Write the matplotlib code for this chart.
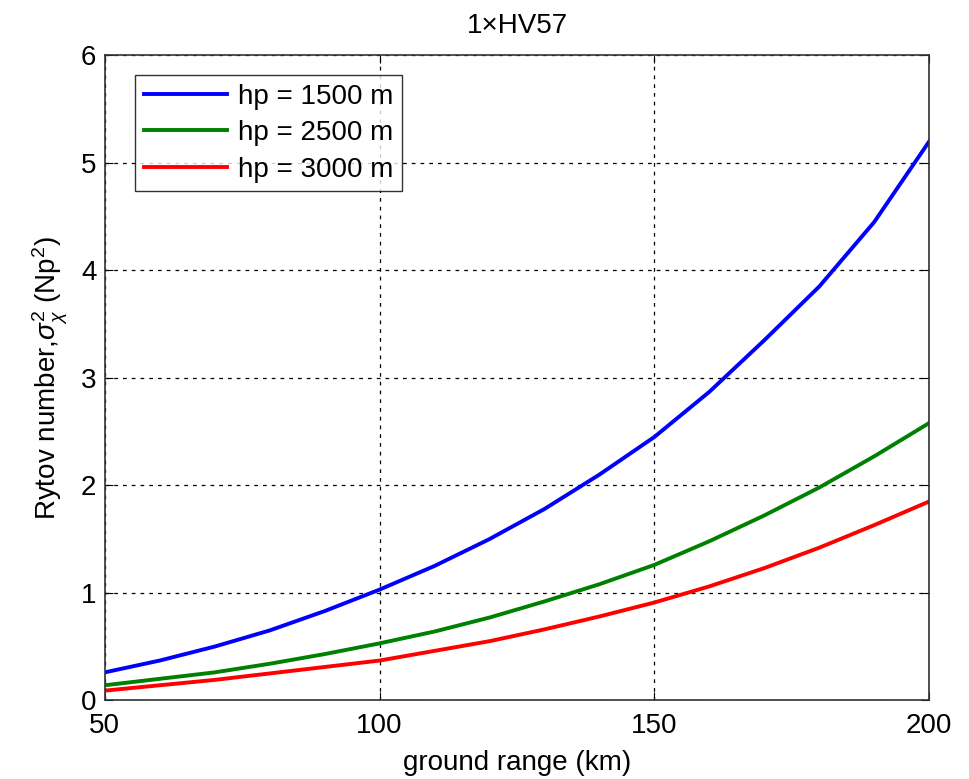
import matplotlib.pyplot as plt
import numpy as np

# Datos
rango = [50, 60, 70, 80, 90, 100, 110, 120, 130, 140, 150, 160, 170, 180, 190, 200]
hp_1500 = [0.26, 0.37, 0.50, 0.65, 0.83, 1.03, 1.25, 1.50, 1.78, 2.10, 2.45, 2.87, 3.35, 3.85, 4.45, 5.20]
hp_2500 = [0.14, 0.20, 0.26, 0.34, 0.43, 0.53, 0.64, 0.77, 0.92, 1.08, 1.26, 1.48, 1.72, 1.98, 2.27, 2.58]
hp_3000 = [0.09, 0.14, 0.19, 0.25, 0.31, 0.37, 0.46, 0.55, 0.66, 0.78, 0.91, 1.06, 1.23, 1.42, 1.63, 1.85]
etiquetas = ['hp = 1500 m', 'hp = 2500 m', 'hp = 3000 m']

plt.rcParams['font.family'] = ['Liberation Sans', 'DejaVu Sans']
plt.rcParams['mathtext.fontset'] = 'custom'
plt.rcParams['mathtext.rm'] = 'Liberation Sans'
plt.rcParams['mathtext.it'] = 'Liberation Sans:italic'

fig = plt.figure(figsize=(9.7, 7.79), dpi=100)
ax = fig.add_axes([0.108, 0.101, 0.850, 0.828])

ax.plot(rango, hp_1500, color='#0000ff', linewidth=2.8, label=etiquetas[0])
ax.plot(rango, hp_2500, color='#008000', linewidth=2.8, label=etiquetas[1])
ax.plot(rango, hp_3000, color='#ff0000', linewidth=2.8, label=etiquetas[2])

ax.set_xlim(50, 200)
ax.set_ylim(0, 6)
ax.set_xticks([50, 100, 150, 200])
ax.set_yticks([0, 1, 2, 3, 4, 5, 6])
ax.tick_params(direction='in', top=True, right=True, labelsize=20, length=6)
ax.tick_params(axis='x', pad=9)
ax.tick_params(axis='y', pad=6)
ax.grid(True, color='black', linestyle=(0, (3, 4)), linewidth=0.9)
for s in ax.spines.values():
    s.set_linewidth(1.2)
    s.set_color('#333333')

ax.set_xlabel('ground range (km)', fontsize=20, labelpad=8)
ax.set_ylabel(r'Rytov number,$\sigma_{\chi}^{2}$ (Np$^{2}$)', fontsize=20, labelpad=8)
ax.set_title('1\u00d7HV57', fontsize=20, pad=16)

leg = ax.legend(loc='upper left', fontsize=20, frameon=True, fancybox=False,
                edgecolor='black', handlelength=3.0, handletextpad=0.4,
                borderpad=0.3, labelspacing=0.38, borderaxespad=0,
                bbox_to_anchor=(0.037, 0.969))
leg.get_frame().set_linewidth(1.0)

fig.savefig('out.png', dpi=100)
